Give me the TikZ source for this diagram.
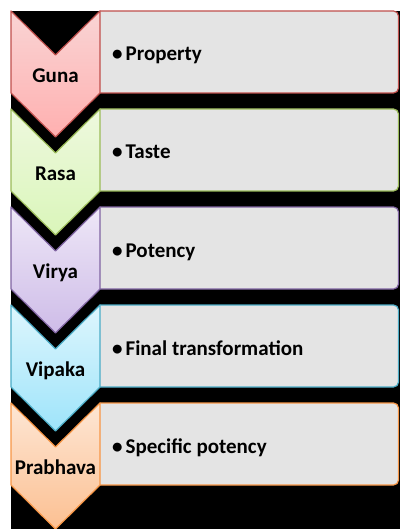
\documentclass[tikz,border=0pt]{standalone}
\usepackage{fontspec}
\setmainfont{Carlito}
\usetikzlibrary{arrows}
\definecolor{gunaline}{RGB}{192,80,77}
\definecolor{gunatop}{RGB}{249,212,212}
\definecolor{gunabot}{RGB}{255,176,176}
\definecolor{rasaline}{RGB}{155,187,89}
\definecolor{rasatop}{RGB}{238,248,222}
\definecolor{rasabot}{RGB}{218,246,186}
\definecolor{viryaline}{RGB}{128,100,162}
\definecolor{viryatop}{RGB}{238,231,247}
\definecolor{viryabot}{RGB}{206,188,232}
\definecolor{vipakaline}{RGB}{75,172,198}
\definecolor{vipakatop}{RGB}{222,246,253}
\definecolor{vipakabot}{RGB}{158,228,250}
\definecolor{prabhavaline}{RGB}{247,150,70}
\definecolor{prabhavatop}{RGB}{253,230,212}
\definecolor{prabhavabot}{RGB}{252,192,146}
\definecolor{listfill}{RGB}{228,228,228}
\tikzset{
  label text/.style={font=\fontsize{21}{25}\selectfont\bfseries,inner sep=0pt,anchor=base},
  item text/.style={font=\fontsize{21}{25}\selectfont\bfseries,inner sep=0pt,anchor=base west}
}

\begin{document}
\begin{tikzpicture}[line cap=round,line join=round,x=1pt,y=-1pt]
\useasboundingbox (0,0) rectangle (400,529);
\fill[black] (11,11) rectangle (400,529);
\foreach \t/\lab/\txt/\col in {11/Guna/Property/guna,109/Rasa/Taste/rasa,207/Virya/Potency/virya,305/Vipaka/Final transformation/vipaka,403/Prabhava/Specific potency/prabhava}
{
\draw[draw=\col line,line width=1.2pt,fill=listfill] (100,\t) [rounded corners=5pt] -- (398.5,\t) -- (398.5,\t+82) [sharp corners] -- (100,\t+82);
\draw[draw=\col line,line width=1.2pt,top color=\col top,bottom color=\col bot] (11,\t) -- (55.5,\t+44) -- (100,\t) -- (100,\t+82) -- (55.5,\t+126) -- (11,\t+82) -- cycle;
\node[label text] (\lab) at (55.5,\t+71.5) {\lab};
\node[item text] (\lab-item) at (112,\t+50) {\textbullet\hspace{3pt}\txt};
}
\end{tikzpicture}
\end{document}
